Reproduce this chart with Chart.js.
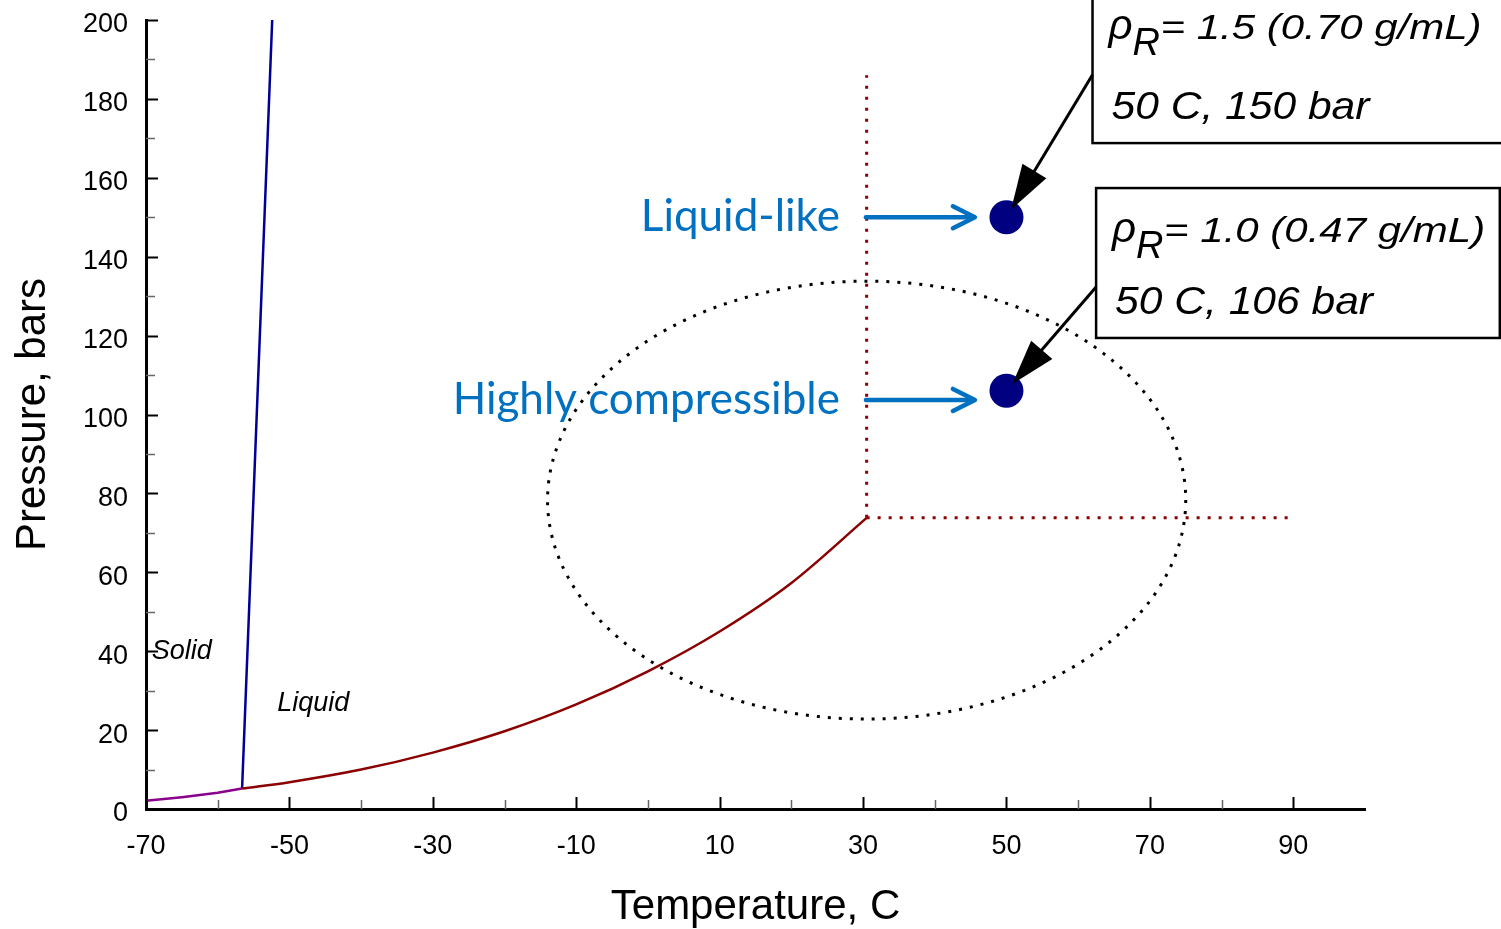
<!DOCTYPE html>
<html>
<head>
<meta charset="utf-8">
<title>CO2 phase diagram</title>
<script src="https://cdn.jsdelivr.net/npm/chart.js@4.4.1/dist/chart.umd.min.js"></script>
<style>
  html, body { margin: 0; padding: 0; background: #fff; }
  canvas { display: block; }
</style>
</head>
<body>
<canvas id="phase" width="1501" height="929"></canvas>
<script>
// CO2 phase boundaries: temperature in °C, pressure in bar
const sublimationT = [-70, -65, -60, -56.6];
const sublimationP = [2.1, 3.0, 4.1, 5.18];

const vaporT = [-56.6, -50, -40, -30, -20, -10, 0, 10, 20, 30.5];
const vaporP = [5.18, 6.8, 10.0, 14.3, 19.7, 26.5, 34.9, 45.0, 57.3, 73.8];

const meltingT = [-56.6, -52.4];
const meltingP = [5.18, 200];

// critical point and the dotted lines leaving it
const criticalT = 30.5;
const criticalP = 73.8;
const isothermTopP = 186;
const isobarEndT = 90;

// two supercritical states at 50 C
const stateT = [50, 50];
const stateP = [150, 106];
const stateNames = ['Liquid-like', 'Highly compressible'];
const stateReducedDensity = ['1.5', '1.0'];
const stateDensity = ['0.70', '0.47'];

// axis ticks (every 10, labelled every 20)
const xTickValues = [-70, -60, -50, -40, -30, -20, -10, 0, 10, 20, 30, 40, 50, 60, 70, 80, 90];
const xTickLabels = ['-70', '-50', '-30', '-10', '10', '30', '50', '70', '90'];
const yTickValues = [0, 10, 20, 30, 40, 50, 60, 70, 80, 90, 100, 110, 120, 130, 140, 150, 160, 170, 180, 190, 200];
const yTickLabels = ['0', '20', '40', '60', '80', '100', '120', '140', '160', '180', '200'];

// phase region names
const phaseNames = ['Solid', 'Liquid'];

// ---- layout of the decorations, in data units ----
const layoutCfg = {
  phaseLabelT: [-69.2, -51.7],
  phaseLabelP: [38.0, 24.8],
  region: { centerT: 30.5, centerP: 78.3, halfT: 44.5, halfP: 55.5 },
  pointerFromT: 30.4,
  pointerToT: 45.6,
  pointerP: [150, 103.7],
  callouts: [
    { leftT: 62.0, rightT: 125, topP: 212, bottomP: 168.8, anchorP: 186.1, line1Drop: 104 },
    { leftT: 62.5, rightT: 118.8, topP: 157.4, bottomP: 119.4, anchorP: 132.3, line1Drop: 96 }
  ]
};

const toXY = (xs, ys) => xs.map((v, i) => ({ x: v, y: ys[i] }));
const isLabelled = (labels, v) => labels.indexOf(String(v)) >= 0;

function drawStretched(ctx, text, px, py, font, sx) {
  ctx.save();
  ctx.font = font;
  ctx.translate(px, py);
  ctx.scale(sx, 1);
  ctx.fillText(text, 0, 0);
  ctx.restore();
}

function openArrow(ctx, x0, y0, x1, y1, len, half) {
  const a = Math.atan2(y1 - y0, x1 - x0);
  const c = Math.cos(a), s = Math.sin(a);
  ctx.beginPath();
  ctx.moveTo(x0, y0);
  ctx.lineTo(x1 - 2, y1);
  ctx.stroke();
  ctx.beginPath();
  ctx.moveTo(x1 - len * c + half * s, y1 - len * s - half * c);
  ctx.lineTo(x1, y1);
  ctx.lineTo(x1 - len * c - half * s, y1 - len * s + half * c);
  ctx.stroke();
}

function solidArrow(ctx, x0, y0, x1, y1, len, half) {
  const a = Math.atan2(y1 - y0, x1 - x0);
  const c = Math.cos(a), s = Math.sin(a);
  ctx.beginPath();
  ctx.moveTo(x0, y0);
  ctx.lineTo(x1 - len * 0.8 * c, y1 - len * 0.8 * s);
  ctx.stroke();
  ctx.beginPath();
  ctx.moveTo(x1, y1);
  ctx.lineTo(x1 - len * c + half * s, y1 - len * s - half * c);
  ctx.lineTo(x1 - len * c - half * s, y1 - len * s + half * c);
  ctx.closePath();
  ctx.fill();
}

const decorPlugin = {
  id: 'phaseDecor',
  beforeDatasetsDraw(chart) {
    const { ctx, scales: { x, y } } = chart;
    const r = layoutCfg.region;
    const cx = x.getPixelForValue(r.centerT);
    const cy = y.getPixelForValue(r.centerP);
    const rx = Math.abs(x.getPixelForValue(r.centerT + r.halfT) - cx);
    const ry = Math.abs(y.getPixelForValue(r.centerP + r.halfP) - cy);
    ctx.save();
    ctx.strokeStyle = '#000';
    ctx.lineWidth = 3;
    ctx.setLineDash([3, 8]);
    ctx.beginPath();
    ctx.ellipse(cx, cy, rx, ry, 0, 0, Math.PI * 2);
    ctx.stroke();
    ctx.restore();
  },
  afterDatasetsDraw(chart) {
    const { ctx, scales: { x, y } } = chart;
    ctx.save();

    // phase names
    ctx.fillStyle = '#000';
    ctx.font = 'italic 27px "Liberation Sans"';
    ctx.textAlign = 'left';
    ctx.textBaseline = 'alphabetic';
    phaseNames.forEach((name, i) => {
      ctx.fillText(name, x.getPixelForValue(layoutCfg.phaseLabelT[i]), y.getPixelForValue(layoutCfg.phaseLabelP[i]));
    });

    // blue pointers to the two states
    ctx.strokeStyle = '#0070C0';
    ctx.fillStyle = '#0070C0';
    ctx.lineWidth = 4.5;
    ctx.lineCap = 'round';
    ctx.lineJoin = 'round';
    ctx.font = '44px Lato';
    ctx.textAlign = 'right';
    stateNames.forEach((name, i) => {
      const py = y.getPixelForValue(layoutCfg.pointerP[i]);
      const x0 = x.getPixelForValue(layoutCfg.pointerFromT);
      const x1 = x.getPixelForValue(layoutCfg.pointerToT);
      openArrow(ctx, x0, py, x1, py, 22, 11);
      ctx.fillText(name, x0 - 26, py + 14);
    });

    // callout boxes with density and conditions
    ctx.lineCap = 'butt';
    ctx.lineJoin = 'miter';
    layoutCfg.callouts.forEach((c, i) => {
      const left = x.getPixelForValue(c.leftT);
      const right = x.getPixelForValue(c.rightT);
      const top = y.getPixelForValue(c.topP);
      const bottom = y.getPixelForValue(c.bottomP);
      ctx.fillStyle = '#fff';
      ctx.fillRect(left, top, right - left, bottom - top);
      ctx.strokeStyle = '#000';
      ctx.lineWidth = 2.5;
      ctx.strokeRect(left, top, right - left, bottom - top);

      // leader arrow to the state point
      const ax = left, ay = y.getPixelForValue(c.anchorP);
      const sx = x.getPixelForValue(stateT[i]), sy = y.getPixelForValue(stateP[i]);
      const d = Math.hypot(ax - sx, ay - sy);
      const tx = sx + (ax - sx) / d * 9, ty = sy + (ay - sy) / d * 9;
      ctx.fillStyle = '#000';
      ctx.lineWidth = 3;
      solidArrow(ctx, ax, ay, tx, ty, 45, 14);

      // text
      ctx.textAlign = 'left';
      ctx.textBaseline = 'alphabetic';
      const b1 = bottom - c.line1Drop;
      ctx.font = 'italic 42px "Liberation Sans"';
      ctx.fillText('ρ', left + 16, b1);
      ctx.font = 'italic 38px "Liberation Sans"';
      ctx.fillText('R', left + 40, b1 + 16);
      drawStretched(ctx, '= ' + stateReducedDensity[i] + ' (' + stateDensity[i] + ' g/mL)',
        left + 68, b1, 'italic 35px "Liberation Sans"', 1.2);
      drawStretched(ctx, stateT[i] + ' C, ' + stateP[i] + ' bar',
        left + 19, bottom - 24, 'italic 38px "Liberation Sans"', 1.12);
    });
    ctx.restore();
  },
  afterDraw(chart) {
    // tick marks pointing into the plot
    const { ctx, scales: { x, y } } = chart;
    const base = y.getPixelForValue(0);
    const edge = x.getPixelForValue(-70);
    ctx.save();
    xTickValues.forEach(v => {
      const major = isLabelled(xTickLabels, v);
      const px = Math.round(x.getPixelForValue(v)) + 0.5;
      ctx.strokeStyle = major ? '#000' : '#666';
      ctx.lineWidth = major ? 2 : 1.5;
      ctx.beginPath();
      ctx.moveTo(px, base);
      ctx.lineTo(px, base - (major ? 12 : 9));
      ctx.stroke();
    });
    yTickValues.forEach(v => {
      const major = isLabelled(yTickLabels, v);
      const py = Math.round(y.getPixelForValue(v)) + 0.5;
      ctx.strokeStyle = major ? '#000' : '#666';
      ctx.lineWidth = major ? 2 : 1.5;
      ctx.beginPath();
      ctx.moveTo(edge, py);
      ctx.lineTo(edge + (major ? 12 : 9), py);
      ctx.stroke();
    });
    ctx.restore();
  }
};

Chart.defaults.font.family = '"Liberation Sans", Arial, sans-serif';
Chart.defaults.color = '#000';

const lineStyle = { showLine: true, pointRadius: 0, pointHoverRadius: 0, borderWidth: 2.5, fill: false };
const dottedStyle = { showLine: true, pointRadius: 0, pointHoverRadius: 0, borderWidth: 3, borderDash: [3, 8], fill: false };

new Chart(document.getElementById('phase'), {
  type: 'scatter',
  data: {
    datasets: [
      Object.assign({ label: 'Sublimation', data: toXY(sublimationT, sublimationP), borderColor: '#8B008B', tension: 0 }, lineStyle),
      Object.assign({ label: 'Vaporization', data: toXY(vaporT, vaporP), borderColor: '#8B0000', cubicInterpolationMode: 'monotone' }, lineStyle),
      Object.assign({ label: 'Melting', data: toXY(meltingT, meltingP), borderColor: '#000099', tension: 0 }, lineStyle),
      Object.assign({ label: 'Critical isotherm', data: [{ x: criticalT, y: criticalP }, { x: criticalT, y: isothermTopP }], borderColor: '#8B0000' }, dottedStyle),
      Object.assign({ label: 'Critical isobar', data: [{ x: criticalT, y: criticalP }, { x: isobarEndT, y: criticalP }], borderColor: '#8B0000' }, dottedStyle),
      { label: 'States', data: toXY(stateT, stateP), showLine: false, pointRadius: 17, pointHoverRadius: 17,
        backgroundColor: '#000080', borderColor: '#000080', borderWidth: 0 }
    ]
  },
  options: {
    responsive: false,
    animation: false,
    devicePixelRatio: 1,
    layout: { padding: { left: 0, top: 20, right: 136, bottom: 0 } },
    plugins: { legend: { display: false }, tooltip: { enabled: false } },
    scales: {
      x: {
        type: 'linear',
        min: -70,
        max: 100,
        afterBuildTicks: s => { s.ticks = xTickValues.map(v => ({ value: v })); },
        afterFit: s => { s.height = 120; s.paddingLeft = 0; s.paddingRight = 0; },
        grid: { display: false, drawTicks: false },
        border: { display: true, color: '#000', width: 3 },
        ticks: {
          autoSkip: false, maxRotation: 0, padding: 21,
          font: { size: 27 },
          callback: v => (isLabelled(xTickLabels, v) ? String(v) : '')
        },
        title: { display: true, text: 'Temperature, C', font: { size: 42 }, padding: { top: 0, bottom: -4 } }
      },
      y: {
        type: 'linear',
        min: 0,
        max: 200,
        afterBuildTicks: s => { s.ticks = yTickValues.map(v => ({ value: v })); },
        afterFit: s => { s.width = 146; s.paddingTop = 0; s.paddingBottom = 0; },
        grid: { display: false, drawTicks: false },
        border: { display: true, color: '#000', width: 3 },
        ticks: {
          autoSkip: false, padding: 18, labelOffset: 5,
          font: { size: 27 },
          callback: v => (isLabelled(yTickLabels, v) ? String(v) : '')
        },
        title: { display: true, text: 'Pressure, bars', font: { size: 42 }, padding: { top: 8, bottom: 0 } }
      }
    }
  },
  plugins: [decorPlugin]
});
</script>
</body>
</html>
